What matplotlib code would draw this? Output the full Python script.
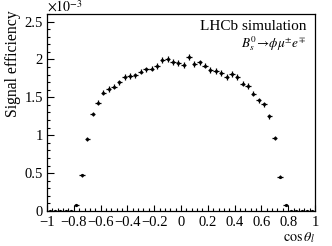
import numpy as np
import matplotlib
matplotlib.use("Agg")
import matplotlib.pyplot as plt
from matplotlib.ticker import MultipleLocator, FuncFormatter

plt.rcParams['font.family'] = ['Liberation Serif', 'DejaVu Serif']
plt.rcParams['mathtext.fontset'] = 'stix'

# bin centres of cos(theta_l), 50 bins from -1 to 1
bin_centers = [round(-0.98 + 0.04 * i, 2) for i in range(50)]
# signal efficiency in units of 1e-3
eff_e3 = [0.0, 0.0, 0.0, 0.0, 0.0,
          0.08, 0.47, 0.95, 1.28, 1.43, 1.56, 1.61, 1.64, 1.70, 1.77,
          1.78, 1.79, 1.84, 1.87, 1.88, 1.91, 1.99, 2.01, 1.97, 1.95,
          1.93, 2.03, 1.94, 1.96, 1.92, 1.86, 1.85, 1.82, 1.77, 1.81,
          1.77, 1.68, 1.65, 1.55, 1.46, 1.41, 1.25, 0.96, 0.45, 0.08,
          0.0, 0.0, 0.0, 0.0, 0.0]
err_e3 = [0.0, 0.0, 0.0, 0.0, 0.0,
          0.01, 0.02, 0.028, 0.032, 0.033, 0.034, 0.034, 0.035, 0.035, 0.036,
          0.036, 0.036, 0.036, 0.037, 0.037, 0.037, 0.038, 0.038, 0.038, 0.038,
          0.038, 0.038, 0.038, 0.038, 0.037, 0.037, 0.037, 0.036, 0.036, 0.036,
          0.036, 0.035, 0.035, 0.034, 0.034, 0.033, 0.032, 0.028, 0.02, 0.01,
          0.0, 0.0, 0.0, 0.0, 0.0]
bin_half_width = 0.02

x_ticks = [-1, -0.8, -0.6, -0.4, -0.2, 0, 0.2, 0.4, 0.6, 0.8, 1]
y_ticks_e3 = [0, 0.5, 1, 1.5, 2, 2.5]

fig = plt.figure(figsize=(3.32, 2.46), dpi=100)
ax = fig.add_axes([47 / 332, 1 - 211 / 246, (315 - 47) / 332, (211 - 14) / 246])

y = np.array(eff_e3) * 1e-3
yerr = np.array(err_e3) * 1e-3
ax.errorbar(bin_centers, y, xerr=bin_half_width, yerr=yerr, fmt='o', color='black',
            markersize=1.3, elinewidth=0.9, capsize=0)

ax.set_xlim(-1, 1)
ax.set_ylim(0, 2.6e-3)
ax.set_xticks(x_ticks)
ax.set_yticks([v * 1e-3 for v in y_ticks_e3])
ax.xaxis.set_minor_locator(MultipleLocator(0.04))
ax.yaxis.set_minor_locator(MultipleLocator(0.1e-3))

def fmt_num(v):
    s = f"{v:g}"
    return s.replace('-', '\u2212')

ax.xaxis.set_major_formatter(FuncFormatter(lambda v, p: fmt_num(round(v, 2))))
ax.yaxis.set_major_formatter(FuncFormatter(lambda v, p: fmt_num(round(v * 1e3, 2))))

ax.tick_params(which='both', direction='in', top=False, right=False, labelsize=10.5, width=0.8)
ax.tick_params(axis='y', which='major', length=5, pad=3)
ax.tick_params(axis='y', which='minor', length=2.5)
ax.tick_params(axis='x', which='major', length=4.5, pad=3.8)
ax.tick_params(axis='x', which='minor', length=2.2)
for s in ax.spines.values():
    s.set_linewidth(0.9)

fig.text(47 / 332, 1 - 7 / 246, r'$\times10^{-3}$', fontsize=10, ha='left', va='center')
fig.text(5 / 332, 1 - 64 / 246, 'Signal efficiency', fontsize=11.3, rotation=90, ha='left', va='center')
fig.text(315 / 332, 1 - 245 / 246, r'$\cos\theta_{l}$', fontsize=10.2, ha='right', va='bottom')
fig.text(306 / 332, 1 - 26 / 246, 'LHCb simulation', fontsize=11, ha='right', va='center')
fig.text(306 / 332, 1 - 44 / 246, r'$B_s^0\!\rightarrow\!\phi\mu^{\pm}e^{\mp}$', fontsize=9.5, ha='right', va='center')

fig.savefig('out.png', dpi=100)
